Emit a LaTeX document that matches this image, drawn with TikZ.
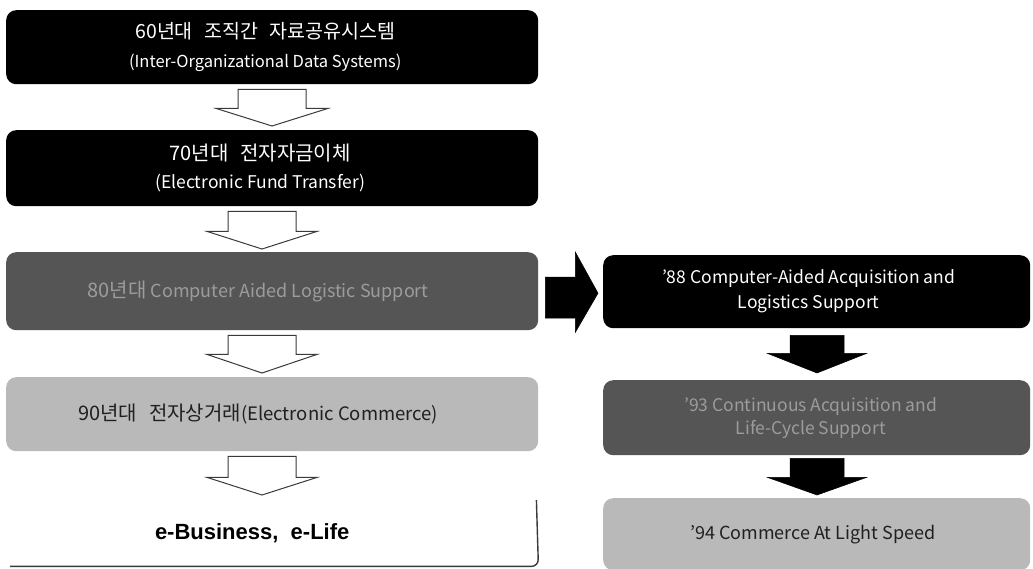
\documentclass[tikz,border=0pt]{standalone}
\usepackage{fontspec}
\setmainfont{Noto Sans CJK KR}
\newfontfamily\kofont[WordSpace=2.6]{Noto Sans CJK KR}
\newfontfamily\heavyfont{Liberation Sans}
\usetikzlibrary{calc}
\definecolor{darkbox}{HTML}{555555}
\definecolor{darktext}{HTML}{9C9C9C}
\definecolor{lightbox}{HTML}{B9B9B9}
\definecolor{lighttext}{HTML}{202020}
\definecolor{edgegray}{HTML}{3A3A3A}
\newcommand\kosize{\kofont\fontsize{20}{28}\selectfont}
\newcommand\lsh[1]{\hspace*{-#1pt}}
% #1 style, #2 top point, #3 tip point, #4 half shaft, #5 half head, #6 top gap, #7 shaft length, #8 tip gap
\newcommand\blockarr[8]{%
  \draw[#1] ($#2+(-#4,#6)$) -- ($#2+(#4,#6)$) -- ($#2+(#4,#6+#7)$) -- ($#2+(#5,#6+#7)$)
    -- ($#3+(0,-#8)$) -- ($#2+(-#5,#6+#7)$) -- ($#2+(-#4,#6+#7)$) -- cycle;}
\begin{document}
\begin{tikzpicture}[x=1pt,y=-1pt,
  box/.style={rounded corners=10pt, anchor=north west, inner sep=0pt, align=center,
    font=\fontsize{17}{28}\selectfont},
  leftbox/.style={box, minimum width=532pt},
  rightbox/.style={box, minimum width=427pt},
  blackbox/.style={fill=black, text=white},
  darkgray/.style={fill=darkbox, text=darktext},
  lightgray/.style={fill=lightbox, text=lighttext},
  hollow/.style={draw=edgegray, line width=1pt, fill=white, line join=miter},
  solid/.style={fill=black, draw=black, line width=0.5pt}]
\useasboundingbox (0,0) rectangle (1033,568);
\fill[white] (0,0) rectangle (1033,568);

% left column
\node[leftbox, blackbox, minimum height=74pt, font=\fontsize{16.5}{29}\selectfont] (b1) at (6,10)
  {\lsh{14}{\kofont\fontsize{19.5}{29}\selectfont 60년대 조직간 자료공유시스템}\\\lsh{14}(Inter-Organizational Data Systems)};
\node[leftbox, blackbox, minimum height=76pt, font=\fontsize{17.5}{28}\selectfont] (b2) at (6,130)
  {\lsh{24}{\kosize 70년대 전자자금이체}\\\lsh{24}(Electronic Fund Transfer)};
\node[leftbox, darkgray, minimum height=78pt, font=\fontsize{18}{28}\selectfont] (b3) at (6,252)
  {\lsh{28}{\kosize 80년대} Computer Aided Logistic Support};
\node[leftbox, lightgray, minimum height=74pt, font=\fontsize{18.5}{28}\selectfont] (b4) at (6,377)
  {\lsh{28}{\kosize 90년대 전자상거래}(Electronic Commerce)};
\node[leftbox, minimum height=66pt, font=\heavyfont\bfseries\fontsize{22}{26}\selectfont] (b5) at (6,500)
  {\lsh{40}e-Business,\ \ e-Life};
\draw[edgegray, line width=1.4pt, rounded corners=7pt]
  ($(b5.north east)+(-2,0)$) -- (b5.south east) -- ($(b5.south west)+(4,0)$);

% right column
\node[rightbox, blackbox, minimum height=73pt, font=\fontsize{17.5}{25}\selectfont] (b6) at (603,255)
  {\lsh{16}'88 Computer-Aided Acquisition and\\\lsh{16}Logistics Support};
\node[rightbox, darkgray, minimum height=75pt, font=\fontsize{17.5}{23}\selectfont] (b7) at (603,380)
  {\lsh{12}'93 Continuous Acquisition and\\\lsh{12}Life-Cycle Support};
\node[rightbox, lightgray, minimum height=72pt, font=\fontsize{18}{23}\selectfont] (b8) at (603,498)
  {\lsh{8}'94 Commerce At Light Speed};

% arrow axes
\coordinate (c1) at (272,0);
\coordinate (c2) at (262,0);
\coordinate (c3) at (817,0);

% hollow arrows (left column)
\blockarr{hollow}{(b1.south -| c1)}{(b2.north -| c1)}{34}{56}{5}{19}{4}
\blockarr{hollow}{(b2.south -| c2)}{(b3.north -| c2)}{34}{55}{5}{20}{3}
\blockarr{hollow}{(b3.south -| c2)}{(b4.north -| c2)}{34}{55}{5}{19}{4}
\blockarr{hollow}{(b4.south -| c2)}{(b5.north -| c2)}{34}{55}{5}{21}{5}

% solid arrows (right column)
\blockarr{solid}{(b6.south -| c3)}{(b7.north -| c3)}{27}{49.5}{7}{18}{7}
\blockarr{solid}{(b7.south -| c3)}{(b8.north -| c3)}{27}{49.5}{3}{19}{3}

% solid arrow from left to right column
\draw[solid] ($(b3.east)+(7,-14)$) -- ($(b3.east)+(37,-14)$) -- ($(b3.east)+(37,-39)$)
  -- ($(b6.west)+(-5,1.5)$) -- ($(b3.east)+(37,41)$) -- ($(b3.east)+(37,27)$)
  -- ($(b3.east)+(7,27)$) -- cycle;
\end{tikzpicture}
\end{document}
